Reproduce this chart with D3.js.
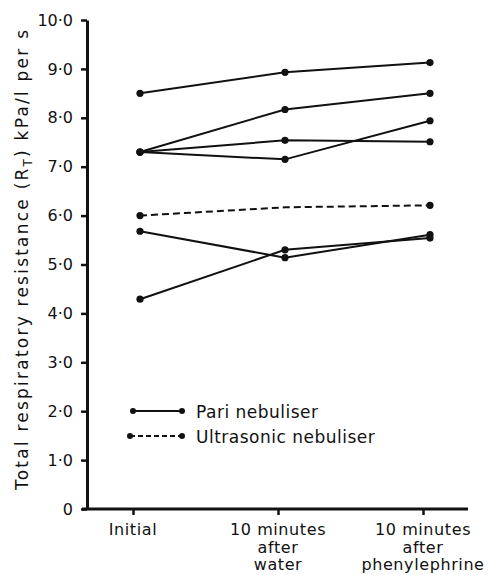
<!DOCTYPE html>
<html>
<head>
<meta charset="utf-8">
<style>
	body { margin: 0; background: #fff; }
	text { font-family: "DejaVu Sans", sans-serif; fill: #111; }
</style>
</head>
<body>
<svg id="chart" width="489" height="575"></svg>
<script src="https://d3js.org/d3.v7.min.js"></script>
<script>

// categories along the x axis (multi-line labels)
var categories = ["Initial", "10 minutes after water", "10 minutes after phenylephrine"];
var categoryLines = [["Initial"], ["10 minutes", "after", "water"], ["10 minutes", "after", "phenylephrine"]];

// y ticks
var yTicks = [0, 1, 2, 3, 4, 5, 6, 7, 8, 9, 10];

// Pari nebuliser subjects (solid lines)
var pari1 = [8.5, 8.93, 9.13];
var pari2 = [7.3, 8.17, 8.5];
var pari3 = [7.3, 7.54, 7.51];
var pari4 = [7.3, 7.15, 7.94];
var pari5 = [5.68, 5.14, 5.61];
var pari6 = [4.29, 5.3, 5.54];
var pariSeries = [pari1, pari2, pari3, pari4, pari5, pari6];

// Ultrasonic nebuliser (dashed), no marker at the middle time point
var ultrasonic = [6.0, 6.17, 6.21];

var svg = d3.select("#chart");

var x = d3.scalePoint()
	.domain(categories)
	.range([140, 430]);

var y = d3.scaleLinear()
	.domain([0, 10])
	.range([509, 20]);

var line = d3.line()
	.x(function(d, i) { return x(categories[i]); })
	.y(function(d) { return y(d); });

// Y axis
var yAxis = svg.append("g")
	.attr("transform", "translate(87,0)")
	.call(d3.axisLeft(y)
		.tickValues(yTicks)
		.tickSize(6)
		.tickSizeOuter(0)
		.tickPadding(8)
		.tickFormat(function(d) { return d === 0 ? "0" : d3.format(".1f")(d).replace(".", "\u00b7"); }));
yAxis.select(".domain").attr("stroke-width", 3).attr("stroke", "#111");
yAxis.selectAll(".tick line").attr("stroke-width", 2.5).attr("stroke", "#111");
yAxis.selectAll(".tick text").attr("font-size", 16).attr("font-family", "DejaVu Sans").attr("fill", "#111");

// X axis (ticks sit slightly left of the plotted points in the original)
var xAxis = svg.append("g")
	.attr("transform", "translate(-7,509)")
	.call(d3.axisBottom(x).tickSize(6).tickSizeOuter(0).tickFormat(""));
xAxis.select(".domain").attr("d", "M89,0H475").attr("stroke-width", 3).attr("stroke", "#111");
xAxis.selectAll(".tick line").attr("stroke-width", 2.5).attr("stroke", "#111");

// x category labels
var xl = svg.append("g")
	.selectAll("text")
	.data(categoryLines)
	.join("text")
		.attr("text-anchor", "middle")
		.attr("font-size", 16)
		.attr("letter-spacing", 0.6)
		.attr("x", function(d, i) { return x(categories[i]) - 7; });
xl.selectAll("tspan")
	.data(function(d) { return d; })
	.join("tspan")
		.attr("x", function() { return d3.select(this.parentNode).attr("x"); })
		.attr("y", function(d, i) { return 535 + i * 17.5; })
		.text(function(d) { return d; });

// Y axis title
var yt = svg.append("text")
	.attr("transform", "translate(28,260) rotate(-90)")
	.attr("text-anchor", "middle")
	.attr("font-size", 17)
	.attr("textLength", 460)
	.attr("lengthAdjust", "spacing");
yt.append("tspan").text("Total respiratory resistance (R");
yt.append("tspan").attr("font-size", 12).attr("dy", 4).text("T");
yt.append("tspan").attr("dy", -4).text(") kPa/l per s");

// Pari lines
svg.append("g")
	.selectAll("path")
	.data(pariSeries)
	.join("path")
		.attr("d", line)
		.attr("fill", "none")
		.attr("stroke", "#111")
		.attr("stroke-width", 2);

// Ultrasonic line
svg.append("path")
	.attr("d", line(ultrasonic))
	.attr("fill", "none")
	.attr("stroke", "#111")
	.attr("stroke-width", 2)
	.attr("stroke-dasharray", "7,4");

// Markers
var points = [];
pariSeries.forEach(function(s) {
	s.forEach(function(v, i) { points.push({ c: categories[i], v: v }); });
});
points.push({ c: categories[0], v: ultrasonic[0] });
points.push({ c: categories[2], v: ultrasonic[2] });

svg.append("g")
	.selectAll("circle")
	.data(points)
	.join("circle")
		.attr("cx", function(d) { return x(d.c); })
		.attr("cy", function(d) { return y(d.v); })
		.attr("r", 3.6)
		.attr("fill", "#111");

// Legend
var legend = [
	{ label: "Pari nebuliser", dash: null, x1: 133, yy: 411 },
	{ label: "Ultrasonic nebuliser", dash: "5,3", x1: 130, yy: 436 }
];
var lg = svg.append("g")
	.selectAll("g")
	.data(legend)
	.join("g");
lg.append("line")
	.attr("x1", function(d) { return d.x1; })
	.attr("x2", 182)
	.attr("y1", function(d) { return d.yy; })
	.attr("y2", function(d) { return d.yy; })
	.attr("stroke", "#111")
	.attr("stroke-width", 2)
	.attr("stroke-dasharray", function(d) { return d.dash; });
lg.append("circle").attr("cx", function(d) { return d.x1; }).attr("cy", function(d) { return d.yy; }).attr("r", 3).attr("fill", "#111");
lg.append("circle").attr("cx", 182).attr("cy", function(d) { return d.yy; }).attr("r", 3).attr("fill", "#111");
lg.append("text")
	.attr("x", 196)
	.attr("y", function(d) { return d.yy + 7; })
	.attr("font-size", 17)
	.attr("letter-spacing", 0.5)
	.text(function(d) { return d.label; });

</script>
</body>
</html>
